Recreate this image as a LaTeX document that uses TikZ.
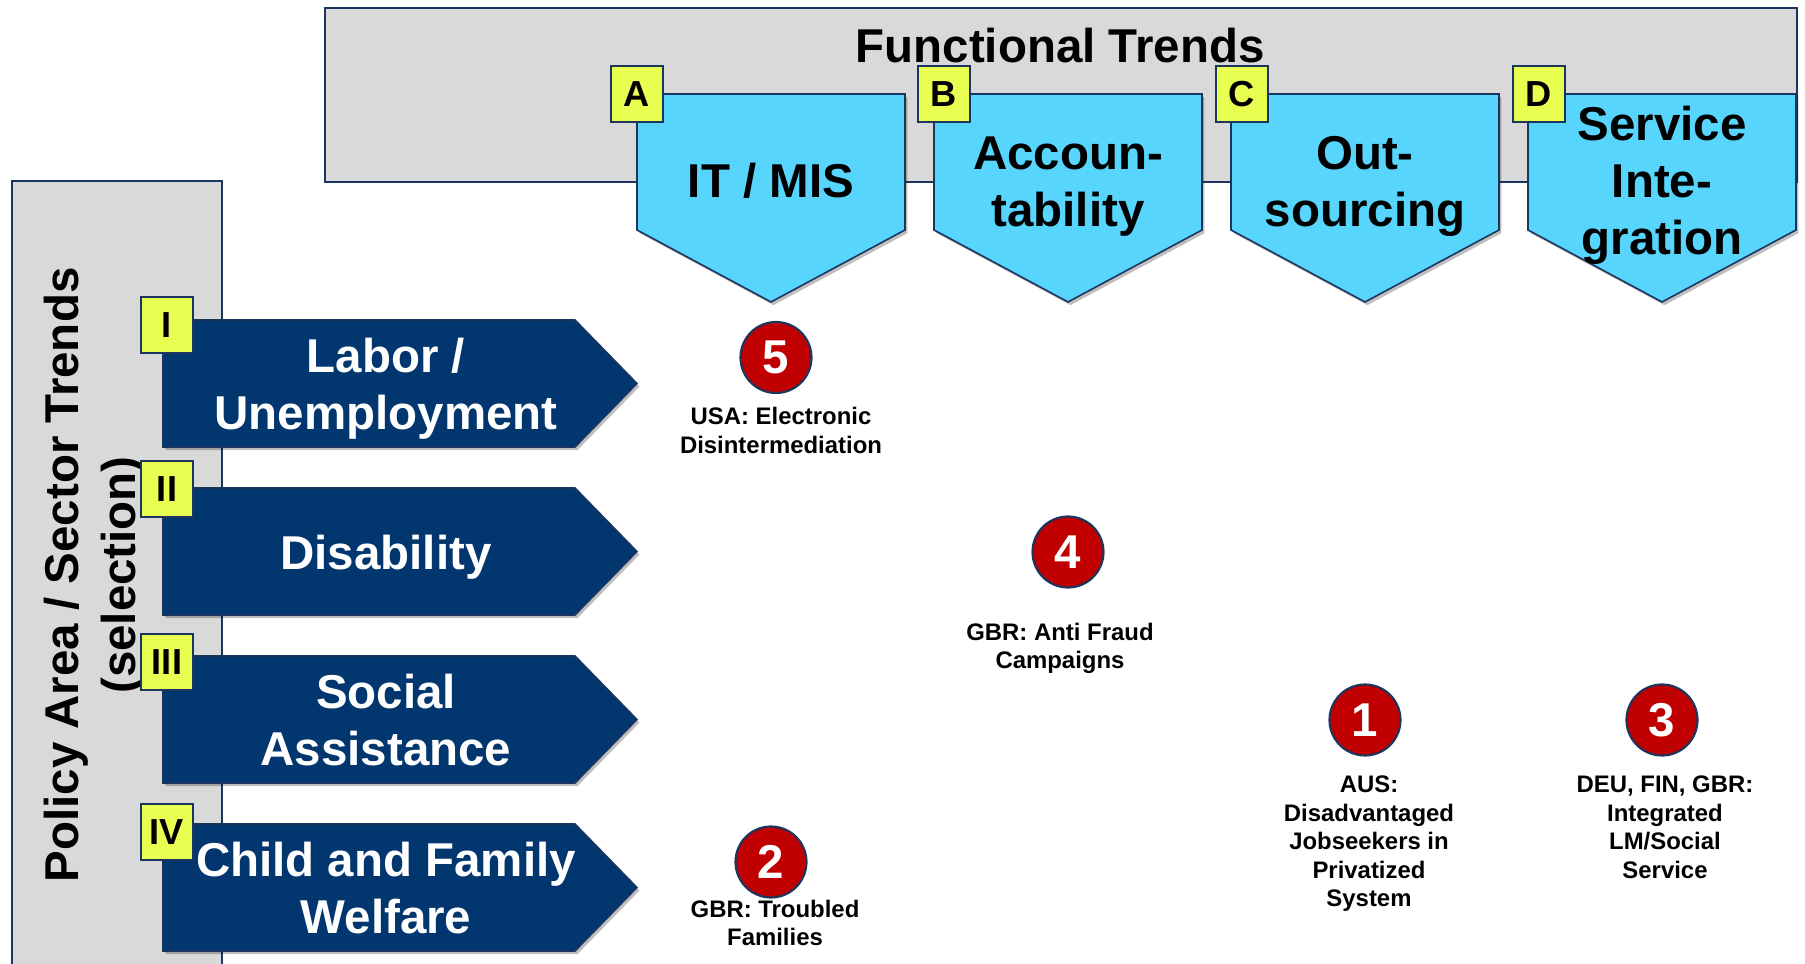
\documentclass[tikz,border=0pt]{standalone}
\usepackage{fontspec}
\setmainfont{Liberation Sans}
\usetikzlibrary{
        positioning,
        shadows
    }
\definecolor{panelgrey}{HTML}{D9D9D9}
\definecolor{navyline}{HTML}{1C355E}
\definecolor{rowblue}{HTML}{02366F}
\definecolor{colblue}{HTML}{57D5FD}
\definecolor{tagyellow}{HTML}{E8FF52}
\definecolor{casered}{HTML}{C00000}
\tikzset{
    panel/.style={fill=panelgrey,draw=navyline,line width=0.45pt},
    flatshadow/.style={drop shadow={shadow xshift=0.7pt,shadow yshift=-0.9pt,opacity=0.25,fill=black}},
    rowarrow/.style={fill=rowblue,draw=navyline,line width=0.45pt,flatshadow},
    colarrow/.style={fill=colblue,draw=navyline,line width=0.45pt,flatshadow},
    bigtext/.style={font=\fontsize{13.5}{16.2}\selectfont\bfseries,align=center,inner sep=0pt},
    rowtext/.style={bigtext,text=white},
    coltext/.style={bigtext,text=black},
    tag/.style={rectangle,fill=tagyellow,draw=navyline,line width=0.45pt,
        minimum width=0.52cm,minimum height=0.56cm,inner sep=0pt,
        font=\fontsize{10.3}{12}\selectfont\bfseries},
    case/.style={circle,fill=casered,draw=navyline,line width=0.6pt,
        minimum size=0.71cm,inner sep=0pt,text=white,
        font=\fontsize{13.5}{16}\selectfont\bfseries},
    casetext/.style={align=center,font=\fontsize{6.8}{8.1}\selectfont\bfseries}
}

\begin{document}
\begin{tikzpicture}[x=0.01cm,y=-0.01cm]
    \useasboundingbox (0,0) rectangle (1805,964);
    % grey panels
    \draw[panel] (325,8) rectangle (1797,182);
    \draw[panel] (12,181) rectangle (222,980);
    \node[coltext] (functional) at (1060,46) {Functional Trends};
    \node[bigtext,rotate=90] (policy) at (95,575) {Policy Area / Sector Trends\\(selection)};

    % functional trend columns
    \draw[colarrow] (637,94) -- (905,94) -- (905,230) -- (771,302) -- (637,230) -- cycle;
    \draw[colarrow] (934,94) -- (1202,94) -- (1202,230) -- (1068,302) -- (934,230) -- cycle;
    \draw[colarrow] (1231,94) -- (1499,94) -- (1499,230) -- (1365,302) -- (1231,230) -- cycle;
    \draw[colarrow] (1528,94) -- (1796,94) -- (1796,230) -- (1662,302) -- (1528,230) -- cycle;
    \node[coltext] (itmis)   at (771,181)  {IT / MIS};
    \node[coltext] (account) at (1068,187) {Accoun-\\tability};
    \node[coltext] (outsrc)  at (1365,186) {Out-\\sourcing};
    \node[coltext] (servint) at (1662,185) {Service\\Inte-\\gration};
    \node[tag] (tagA) at (637,94)  {A};
    \node[tag] (tagB) at (944,94)  {B};
    \node[tag] (tagC) at (1242,94) {C};
    \node[tag] (tagD) at (1539,94) {D};

    % policy area rows
    \draw[rowarrow] (163,320) -- (575,320) -- (637,383.5) -- (575,447) -- (163,447) -- cycle;
    \draw[rowarrow] (163,488) -- (575,488) -- (637,551.5) -- (575,615) -- (163,615) -- cycle;
    \draw[rowarrow] (163,656) -- (575,656) -- (637,719.5) -- (575,783) -- (163,783) -- cycle;
    \draw[rowarrow] (163,824) -- (575,824) -- (637,887.5) -- (575,951) -- (163,951) -- cycle;
    \node[rowtext] (labor)   at (386,389) {Labor /\\Unemployment};
    \node[rowtext] (disab)   at (386,557) {Disability};
    \node[rowtext] (social)  at (386,720) {Social\\Assistance};
    \node[rowtext] (child)   at (386,888) {Child and Family\\Welfare};
    \node[tag] (tagI)   at (167,325) {I};
    \node[tag] (tagII)  at (167,489) {II};
    \node[tag] (tagIII) at (167,662) {III};
    \node[tag] (tagIV)  at (167,832) {IV};

    % cases
    \node[case] (case5) at (776,357.5) {5};
    \node[case] (case4) at (1068,552)  {4};
    \node[case] (case1) at (1365,720)  {1};
    \node[case] (case3) at (1662,720)  {3};
    \node[case] (case2) at (771,862)   {2};
    \node[casetext] (txt5) [below=0.01cm of case5,xshift=0.05cm] {USA: Electronic\\Disintermediation};
    \node[casetext] (txt4) [below=0.22cm of case4,xshift=-0.08cm] {GBR: Anti Fraud\\Campaigns};
    \node[casetext] (txt1) [below=0.07cm of case1,xshift=0.04cm] {AUS:\\Disadvantaged\\Jobseekers in\\Privatized\\System};
    \node[casetext] (txt3) [below=0.07cm of case3,xshift=0.03cm] {DEU, FIN, GBR:\\Integrated\\LM/Social\\Service};
    \node[casetext] (txt2) [below=-0.11cm of case2,xshift=0.04cm] {GBR: Troubled\\Families};
\end{tikzpicture}
\end{document}
